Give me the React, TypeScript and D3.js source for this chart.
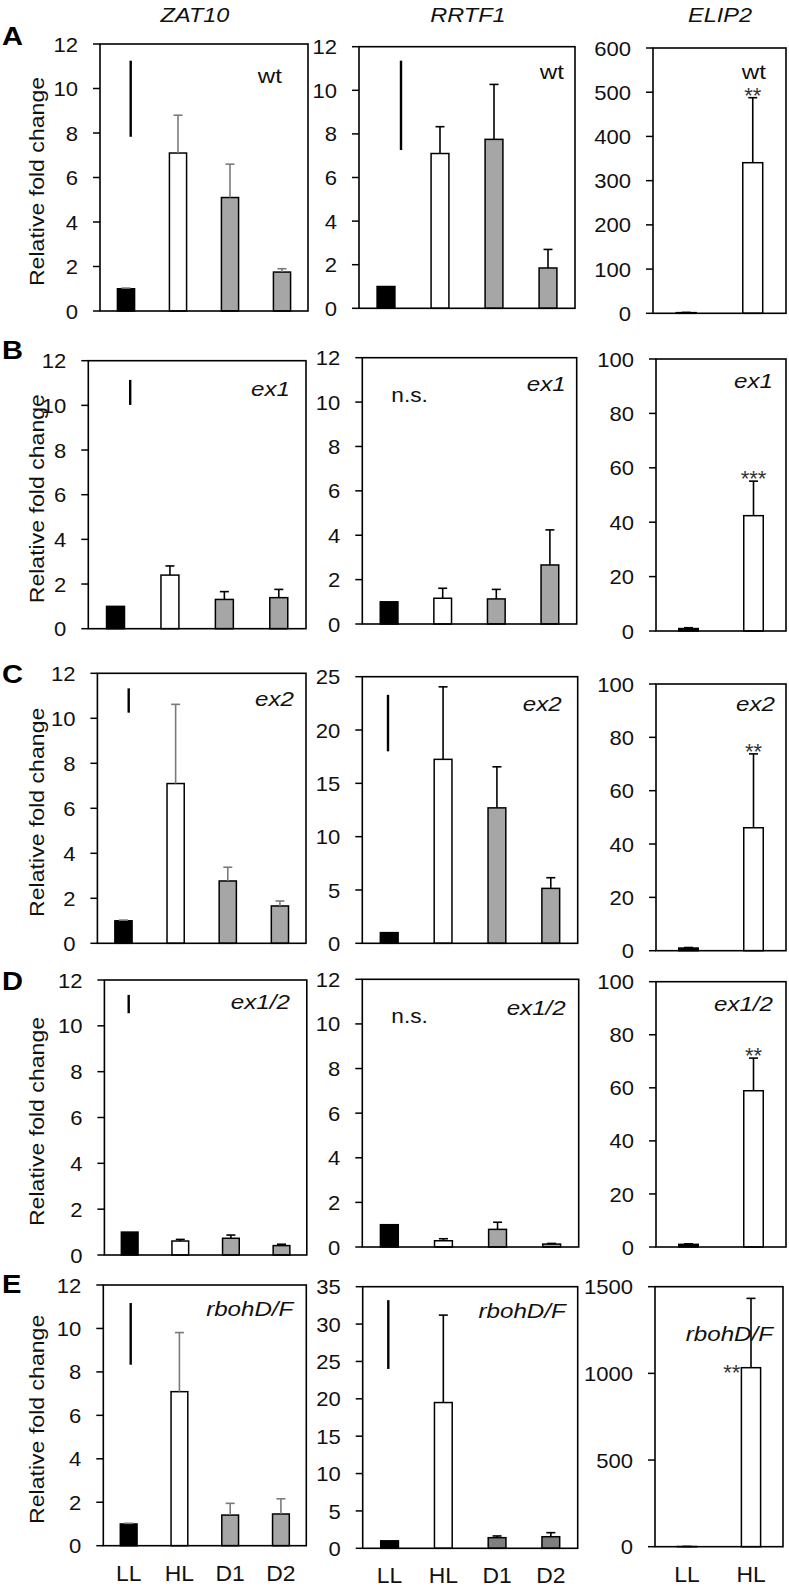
import React from "react";
import * as d3 from "d3";

// ---------------- data ----------------
const rowLetters = ["A", "B", "C", "D", "E"];
const genes = ["ZAT10", "RRTF1", "ELIP2"];
const genotypes = ["wt", "ex1", "ex2", "ex1/2", "rbohD/F"];
const genotypeItalic = [false, true, true, true, true];
const conditions = ["LL", "HL", "D1", "D2"];
const elipConditions = ["LL", "HL"];

const zat10Mean = [
  [1.0, 7.1, 5.1, 1.75],
  [1.0, 2.4, 1.31, 1.39],
  [1.0, 7.1, 2.77, 1.66],
  [1.0, 0.61, 0.73, 0.41],
  [1.0, 7.09, 1.41, 1.46],
];
const zat10Err = [
  [0.03, 1.7, 1.5, 0.15],
  [0, 0.41, 0.35, 0.37],
  [0.03, 3.52, 0.61, 0.22],
  [0, 0.07, 0.14, 0.06],
  [0.03, 2.72, 0.54, 0.7],
];
const rrtf1Mean = [
  [1.0, 7.1, 7.75, 1.85],
  [1.0, 1.16, 1.13, 2.66],
  [1.0, 17.25, 12.7, 5.15],
  [1.0, 0.28, 0.79, 0.13],
  [1.0, 19.5, 1.42, 1.55],
];
const rrtf1Err = [
  [0, 1.23, 2.52, 0.85],
  [0, 0.45, 0.43, 1.58],
  [0, 6.8, 3.85, 1.0],
  [0, 0.09, 0.32, 0.03],
  [0, 11.7, 0.23, 0.54],
];
const elip2Mean = [
  [1.5, 340.6],
  [0.9, 42.4],
  [1.0, 46.1],
  [1.0, 58.9],
  [1.0, 1032.7],
];
const elip2Err = [
  [0.5, 147],
  [0.3, 12.7],
  [0.2, 27.7],
  [0.2, 12.3],
  [0.5, 400],
];
const zat10YMax = [12, 12, 12, 12, 12];
const zat10YStep = [2, 2, 2, 2, 2];
const rrtf1YMax = [12, 12, 25, 12, 35];
const rrtf1YStep = [2, 2, 5, 2, 5];
const elip2YMax = [600, 100, 100, 100, 1500];
const elip2YStep = [100, 20, 20, 20, 500];
// vertical marker lines [bottom, top] in data units
const zat10Mark = [
  [7.83, 11.25],
  [10.02, 11.14],
  [10.25, 11.33],
  [10.55, 11.35],
  [8.33, 11.17],
];
const rrtf1Mark: (number[] | null)[] = [[7.26, 11.36], null, [18, 23.3], null, [24, 33.2]];
const rrtf1NS = ["", "n.s.", "", "n.s.", ""];
const elip2Stars = ["**", "***", "**", "**", "**"];

// ---------------- layout ----------------
// [left, right, top, bottom] per row / column
const boxes = [
  [[100, 308, 44, 311], [359, 575, 46.7, 308.3], [653, 786, 48, 313.3]],
  [[88.3, 306, 360.7, 628.7], [362.3, 576.7, 357.7, 624], [656, 786, 359, 631]],
  [[97.4, 306, 673.3, 943.3], [362.3, 577.7, 676.7, 943.3], [656, 786, 684, 950.7]],
  [[104.4, 306.8, 980, 1255], [362.3, 578.7, 979.3, 1247], [656, 786, 981.7, 1247]],
  [[103.3, 306.3, 1285, 1545.7], [362.7, 577.7, 1286.7, 1548.3], [655, 783, 1286.7, 1546.7]],
];
const letterBaseline = [45, 359, 683, 990, 1293];
// genotype label: [offset from right edge, offset from top]
const labelOff = [
  [[26, 39], [11, 32], [20, 31]],
  [[16, 35], [11, 33], [13, 29]],
  [[12, 33], [16, 34], [11, 27]],
  [[17, 29], [13, 36], [13, 29]],
  [[13, 31], [12, 31], [10, 54]],
];
const markX = [
  [130.7, 401],
  [130.2, 0],
  [128.7, 388],
  [128.7, 0],
  [130.7, 388.3],
];
const zat10ErrColor = ["#7a7a7a", "#000", "#7a7a7a", "#000", "#7a7a7a"];
const rrtf1GrayFill = ["#a6a6a6", "#a6a6a6", "#a6a6a6", "#a6a6a6", "#7f7f7f"];

const FONT = "'Liberation Sans', Arial, Helvetica, sans-serif";

function T({ x, y, sx = 1, rot = 0, size, anchor = "middle", italic = false, bold = false, fill = "#111", dy = "0", children }: any) {
  const tr = `translate(${x},${y})${rot ? ` rotate(${rot})` : ""} scale(${sx},1)`;
  return (
    <text
      transform={tr}
      fontFamily={FONT}
      fontSize={size}
      textAnchor={anchor}
      fontStyle={italic ? "italic" : "normal"}
      fontWeight={bold ? "bold" : "normal"}
      fill={fill}
      dy={dy}
    >
      {children}
    </text>
  );
}

function Panel({ box, cats, means, errs, yMax, yStep, errColor, fills, barFrac, showX, mark, markXpos, ns, stars, starsSide, label, labelItalic, lOff, yLabel }: any) {
  const [l, r, t, b] = box;
  const y = d3.scaleLinear().domain([0, yMax]).range([b, t]);
  const x = d3.scaleBand().domain(cats).range([l, r]);
  const bw = x.bandwidth() * barFrac;
  const ticks = d3.range(0, yMax + yStep / 2, yStep);
  const els: any[] = [];
  cats.forEach((c: string, i: number) => {
    const cx = (x(c) as number) + x.bandwidth() / 2;
    const top = y(means[i]);
    els.push(
      <rect key={"b" + i} x={cx - bw / 2} y={top} width={bw} height={b - top} fill={fills[i]} stroke="#000" strokeWidth={1.5} />
    );
    if (errs[i] > 0) {
      const et = y(means[i] + errs[i]);
      els.push(
        <g key={"e" + i} stroke={errColor} strokeWidth={1.6}>
          <line x1={cx} x2={cx} y1={top} y2={et} />
          <line x1={cx - 4.5} x2={cx + 4.5} y1={et} y2={et} />
        </g>
      );
    }
  });
  let starEl = null;
  if (stars) {
    const c = "HL";
    const idx = cats.indexOf(c);
    const cx = (x(c) as number) + x.bandwidth() / 2;
    if (starsSide) {
      starEl = (
        <T x={cx - bw / 2 - 1} y={y(means[idx]) + 12} size={22} anchor="end" fill="#333">
          {stars}
        </T>
      );
    } else {
      starEl = (
        <T x={cx} y={y(means[idx] + errs[idx]) + 5} size={22} fill="#333">
          {stars}
        </T>
      );
    }
  }
  return (
    <g>
      {els}
      {mark && (
        <line x1={markXpos} x2={markXpos} y1={y(mark[0])} y2={y(mark[1])} stroke="#000" strokeWidth={2.4} />
      )}
      {starEl}
      <rect x={l} y={t} width={r - l} height={b - t} fill="none" stroke="#000" strokeWidth={1.6} />
      {ticks.map((v: number) => (
        <g key={"t" + v}>
          <line x1={l - 7} x2={l} y1={y(v)} y2={y(v)} stroke="#000" strokeWidth={1.5} />
          <T x={l - 22} y={y(v)} dy="0.36em" size={21} sx={1.05} anchor="end">
            {v}
          </T>
        </g>
      ))}
      <T x={r - lOff[0]} y={t + lOff[1]} size={21} sx={1.15} anchor="end" italic={labelItalic}>
        {label}
      </T>
      {ns && (
        <T x={l + 29} y={t + 44} size={21} sx={1.08} anchor="start">
          {ns}
        </T>
      )}
      {showX &&
        cats.map((c: string) => (
          <T key={"x" + c} x={(x(c) as number) + x.bandwidth() / 2} y={b + 35} size={22} sx={1.04}>
            {c}
          </T>
        ))}
      {yLabel && (
        <T x={36} y={(t + b) / 2 + 4} rot={-90} dy="0.36em" size={21} sx={1.1}>
          Relative fold change
        </T>
      )}
    </g>
  );
}

export default function App() {
  const gray = "#a6a6a6";
  return (
    <svg width={789} height={1587} style={{ position: "absolute", left: 0, top: 0, background: "#fff" }}>
      <rect x={0} y={0} width={789} height={1587} fill="#fff" />
      {genes.map((g, j) => (
        <T key={g} x={[195, 468, 720][j]} y={22} size={21} sx={1.12} italic>
          {g}
        </T>
      ))}
      {rowLetters.map((L, i) => {
        const row = boxes[i];
        return (
          <g key={L}>
            <T x={2} y={letterBaseline[i]} size={26} sx={1.12} bold anchor="start" fill="#000">
              {L}
            </T>
            <Panel
              box={row[0]}
              cats={conditions}
              means={zat10Mean[i]}
              errs={zat10Err[i]}
              yMax={zat10YMax[i]}
              yStep={zat10YStep[i]}
              errColor={zat10ErrColor[i]}
              fills={["#000", "#fff", gray, gray]}
              barFrac={0.33}
              showX={i === 4}
              mark={zat10Mark[i]}
              markXpos={markX[i][0]}
              label={genotypes[i]}
              labelItalic={genotypeItalic[i]}
              lOff={labelOff[i][0]}
              yLabel
            />
            <Panel
              box={row[1]}
              cats={conditions}
              means={rrtf1Mean[i]}
              errs={rrtf1Err[i]}
              yMax={rrtf1YMax[i]}
              yStep={rrtf1YStep[i]}
              errColor="#000"
              fills={["#000", "#fff", rrtf1GrayFill[i], rrtf1GrayFill[i]]}
              barFrac={0.33}
              showX={i === 4}
              mark={rrtf1Mark[i]}
              markXpos={markX[i][1]}
              ns={rrtf1NS[i]}
              label={genotypes[i]}
              labelItalic={genotypeItalic[i]}
              lOff={labelOff[i][1]}
            />
            <Panel
              box={row[2]}
              cats={elipConditions}
              means={elip2Mean[i]}
              errs={elip2Err[i]}
              yMax={elip2YMax[i]}
              yStep={elip2YStep[i]}
              errColor="#000"
              fills={["#000", "#fff"]}
              barFrac={0.3}
              showX={i === 4}
              stars={elip2Stars[i]}
              starsSide={i === 4}
              label={genotypes[i]}
              labelItalic={genotypeItalic[i]}
              lOff={labelOff[i][2]}
            />
          </g>
        );
      })}
    </svg>
  );
}
